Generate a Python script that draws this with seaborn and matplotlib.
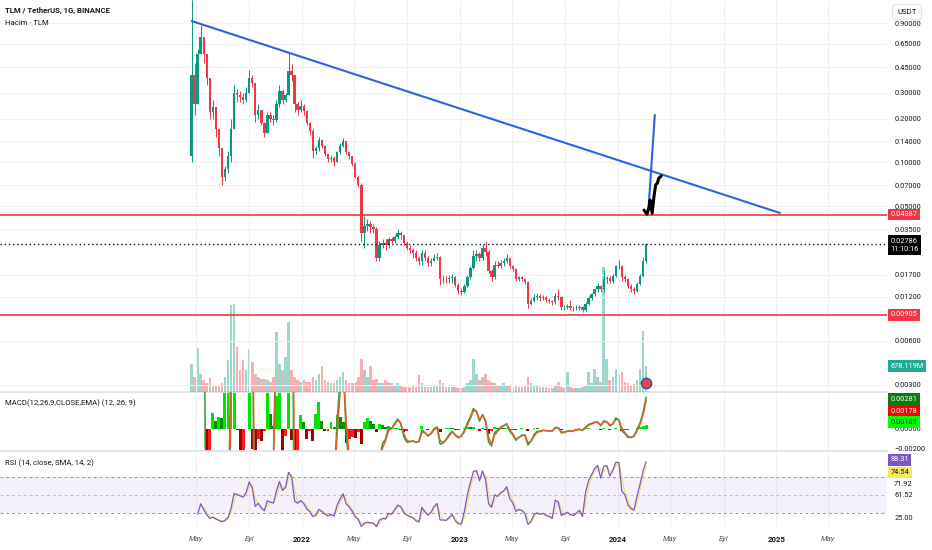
import numpy as np
import pandas as pd
import matplotlib
matplotlib.use("Agg")
import matplotlib.pyplot as plt
import matplotlib.dates as mdates
import matplotlib.transforms as mtransforms
from matplotlib.ticker import FixedLocator, NullLocator, FixedFormatter
import seaborn as sns

# ---- data: weekly candles ----
start_date = "2021-04-21"
first_open = 0.11

closes = [
    0.40, 0.25, 0.55, 0.72, 0.55, 0.38, 0.22, 0.24, 0.17, 0.125,
    0.08, 0.09, 0.11, 0.17, 0.30, 0.29, 0.28, 0.27, 0.30, 0.38,
    0.35, 0.21, 0.23, 0.185, 0.16, 0.21, 0.20, 0.195, 0.25, 0.31,
    0.27, 0.29, 0.42, 0.40, 0.25, 0.23, 0.245, 0.225, 0.185, 0.165,
    0.12, 0.125, 0.142, 0.13, 0.115, 0.105, 0.108, 0.10, 0.118, 0.13,
    0.14, 0.118, 0.11, 0.098, 0.08, 0.07, 0.033, 0.037, 0.038, 0.036,
    0.035, 0.022, 0.027, 0.028, 0.027, 0.030, 0.029, 0.031, 0.033, 0.032,
    0.028, 0.026, 0.025, 0.024, 0.022, 0.021, 0.024, 0.022, 0.0205, 0.021,
    0.022, 0.0225, 0.016, 0.016, 0.0158, 0.0162, 0.0165, 0.0145, 0.0132, 0.013,
    0.0142, 0.0165, 0.019, 0.023, 0.0235, 0.022, 0.026, 0.0245, 0.018, 0.0165,
    0.020, 0.0195, 0.0205, 0.021, 0.022, 0.0195, 0.0185, 0.016, 0.0163, 0.016,
    0.0152, 0.0108, 0.0112, 0.012, 0.0122, 0.0118, 0.0119, 0.0115, 0.0113, 0.011,
    0.0122, 0.012, 0.0102, 0.0103, 0.0104, 0.0101, 0.0100, 0.0101, 0.0102, 0.0097,
    0.0108, 0.0118, 0.0125, 0.0135, 0.0142, 0.0135, 0.016, 0.0162, 0.0155, 0.0168,
    0.0195, 0.0195, 0.0165, 0.016, 0.0143, 0.0135, 0.0132, 0.0148, 0.0168, 0.021,
    0.02786,
]
highs = [
    1.30, 0.48, 0.60, 0.88, 0.72, 0.55, 0.38, 0.27, 0.24, 0.17,
    0.125, 0.095, 0.12, 0.20, 0.34, 0.32, 0.31, 0.30, 0.33, 0.43,
    0.40, 0.35, 0.25, 0.23, 0.19, 0.22, 0.22, 0.21, 0.27, 0.34,
    0.32, 0.30, 0.57, 0.47, 0.40, 0.26, 0.27, 0.25, 0.23, 0.19,
    0.17, 0.13, 0.15, 0.145, 0.13, 0.115, 0.112, 0.11, 0.12, 0.135,
    0.148, 0.14, 0.12, 0.11, 0.10, 0.082, 0.072, 0.043, 0.041, 0.040,
    0.038, 0.036, 0.029, 0.030, 0.030, 0.031, 0.031, 0.032, 0.035, 0.034,
    0.032, 0.029, 0.027, 0.026, 0.025, 0.023, 0.025, 0.025, 0.023, 0.022,
    0.0235, 0.024, 0.023, 0.017, 0.0168, 0.017, 0.0172, 0.0168, 0.015, 0.0138,
    0.0148, 0.017, 0.0195, 0.025, 0.025, 0.0245, 0.0275, 0.029, 0.025, 0.0185,
    0.021, 0.021, 0.0215, 0.022, 0.0235, 0.022, 0.0198, 0.0188, 0.0168, 0.0166,
    0.0162, 0.0153, 0.0118, 0.0126, 0.0128, 0.0125, 0.0123, 0.0121, 0.0118, 0.0115,
    0.0127, 0.0136, 0.0121, 0.0106, 0.0108, 0.0114, 0.0104, 0.0105, 0.0105, 0.0104,
    0.0111, 0.0121, 0.0128, 0.0138, 0.015, 0.0145, 0.0182, 0.0168, 0.0166, 0.0172,
    0.020, 0.0216, 0.0198, 0.017, 0.0162, 0.0148, 0.014, 0.0152, 0.0172, 0.0225,
    0.0282,
]
lows = [
    0.10, 0.21, 0.25, 0.55, 0.48, 0.34, 0.20, 0.20, 0.15, 0.11,
    0.07, 0.075, 0.085, 0.10, 0.17, 0.26, 0.26, 0.25, 0.26, 0.30,
    0.33, 0.19, 0.20, 0.18, 0.15, 0.16, 0.19, 0.18, 0.19, 0.24,
    0.25, 0.26, 0.29, 0.36, 0.22, 0.21, 0.22, 0.21, 0.18, 0.155,
    0.108, 0.115, 0.12, 0.125, 0.11, 0.10, 0.10, 0.095, 0.10, 0.115,
    0.128, 0.115, 0.105, 0.095, 0.078, 0.068, 0.029, 0.026, 0.034, 0.033,
    0.033, 0.021, 0.021, 0.026, 0.025, 0.026, 0.028, 0.028, 0.030, 0.030,
    0.027, 0.025, 0.024, 0.022, 0.021, 0.020, 0.020, 0.021, 0.0195, 0.0195,
    0.021, 0.0215, 0.0145, 0.015, 0.015, 0.015, 0.015, 0.014, 0.0125, 0.0124,
    0.0128, 0.014, 0.016, 0.0185, 0.021, 0.021, 0.0215, 0.023, 0.0175, 0.0155,
    0.016, 0.019, 0.019, 0.0195, 0.0205, 0.019, 0.018, 0.0155, 0.0155, 0.0155,
    0.0148, 0.0100, 0.0105, 0.0110, 0.0115, 0.0113, 0.0114, 0.0111, 0.0109, 0.0106,
    0.0108, 0.0115, 0.0098, 0.0098, 0.0099, 0.0097, 0.0096, 0.0097, 0.0098, 0.0094,
    0.0096, 0.0106, 0.0115, 0.0122, 0.013, 0.013, 0.013, 0.015, 0.015, 0.015,
    0.0165, 0.0185, 0.0155, 0.0152, 0.0138, 0.013, 0.0126, 0.013, 0.0145, 0.0165,
    0.0205,
]
volumes_m = [
    730, 400, 1150, 480, 310, 230, 360, 180, 180, 180,
    230, 400, 830, 2270, 2300, 1180, 570, 830, 570, 1130,
    780, 470, 390, 340, 340, 310, 260, 390, 1560, 730,
    570, 910, 1830, 570, 390, 310, 260, 310, 260, 260,
    390, 310, 470, 680, 310, 260, 230, 230, 310, 390,
    520, 310, 230, 230, 260, 390, 860, 570, 390, 680,
    310, 340, 230, 230, 310, 260, 230, 180, 230, 180,
    130, 130, 130, 180, 130, 440, 230, 130, 130, 130,
    180, 180, 310, 230, 130, 130, 130, 130, 100, 100,
    130, 230, 310, 860, 470, 310, 390, 470, 310, 260,
    230, 180, 180, 230, 180, 150, 130, 150, 130, 130,
    150, 390, 230, 180, 150, 130, 130, 130, 100, 100,
    180, 260, 130, 100, 520, 130, 100, 100, 100, 130,
    180, 520, 230, 600, 390, 260, 3250, 860, 310, 390,
    600, 470, 520, 260, 230, 180, 200, 300, 600, 1600,
    678.119,
]

resistance = 0.04387
support = 0.00905
last_price = 0.02786
countdown = "11:10:16"
last_volume_m = 678.119
macd_labels = ["0.00281", "0.00178", "0.00103"]
rsi_labels = ["88.31", "74.54", "71.92", "61.52"]

# user drawings
trend_dates = ["2021-04-21", "2025-01-09"]
trend_prices = [0.931, 0.0451]
target_dates = ["2024-03-11", "2024-03-26"]
target_prices = [0.046, 0.2114]
path_dates = ["2024-03-01", "2024-03-08", "2024-03-13", "2024-03-15", "2024-03-20",
              "2024-03-24", "2024-03-28", "2024-04-01", "2024-04-04", "2024-04-10"]
path_prices = [0.0472, 0.0442, 0.0498, 0.0553, 0.0449, 0.0583, 0.0701, 0.0723, 0.0779, 0.0808]

price_ticks = [0.9, 0.65, 0.45, 0.3, 0.2, 0.14, 0.1, 0.07, 0.05, 0.035, 0.017, 0.012, 0.006, 0.003]
time_ticks = ["2021-05-01", "2021-09-01", "2022-01-01", "2022-05-01", "2022-09-01", "2023-01-01",
              "2023-05-01", "2023-09-01", "2024-01-01", "2024-05-01", "2024-09-01", "2025-01-01",
              "2025-05-01"]
time_labels = ["May", "Eyl", "2022", "May", "Eyl", "2023", "May", "Eyl", "2024", "May", "Eyl", "2025", "May"]

# ---- style ----
sns.set_theme(style="white")
plt.rcParams["font.family"] = ["Roboto", "DejaVu Sans"]
UP, DOWN = "#089981", "#f23645"
GRID = "#eef0f4"
FS = 5.3

n = min(len(closes), len(highs), len(lows), len(volumes_m))
close = pd.Series(closes[:n])
opens = pd.Series([first_open] + closes[:n - 1])
hi = np.maximum(np.array(highs[:n]), np.maximum(opens, close))
lo = np.minimum(np.array(lows[:n]), np.minimum(opens, close))
dates = pd.date_range(start_date, periods=n, freq="7D")
xs = mdates.date2num(dates)
up = (close >= opens).values

# indicators (daily EMA lengths expressed per weekly bar)
def ema(s, days):
    a = 1 - (1 - 2 / (days + 1)) ** 7
    return s.ewm(alpha=a, adjust=False).mean()

macd = ema(close, 12) - ema(close, 26)
signal = ema(macd, 9)
hist = macd - signal
macd[:4] = np.nan
signal[:5] = np.nan
hist[:5] = np.nan

delta = close.diff()
a_rsi = 1 / 6
gain = delta.clip(lower=0).ewm(alpha=a_rsi, adjust=False).mean()
loss = (-delta.clip(upper=0)).ewm(alpha=a_rsi, adjust=False).mean()
rsi = 100 - 100 / (1 + gain / loss)
rsi_ma = rsi.rolling(2).mean()
rsi[:2] = np.nan
rsi_ma[:4] = np.nan

# ---- figure ----
W, H = 932, 550
fig = plt.figure(figsize=(W / 100, H / 100), dpi=100)
right = 887 / W
ax = fig.add_axes([0, (H - 392) / H, right, 392 / H])
ax_m = fig.add_axes([0, (H - 451) / H, right, 59 / H])
ax_r = fig.add_axes([0, (H - 527) / H, right, 76 / H])

xlim = (mdates.date2num(pd.Timestamp("2020-02-03 08:00")), mdates.date2num(pd.Timestamp("2025-09-13 10:00")))
tick_x = mdates.date2num(pd.to_datetime(time_ticks))

for a in (ax, ax_m, ax_r):
    a.set_xlim(*xlim)
    a.xaxis.set_major_locator(FixedLocator(tick_x))
    a.grid(axis="x", color=GRID, lw=0.8)
    for s in a.spines.values():
        s.set_visible(False)
    a.tick_params(axis="x", length=0, labelbottom=False)
    a.set_axisbelow(True)

# volume overlay
ax_v = ax.twinx()
ax_v.set_ylim(0, last_volume_m * 1e6 * 392 / 26)
ax_v.bar(xs, np.array(volumes_m[:n]) * 1e6, width=6.0,
         color=np.where(up, UP, DOWN), alpha=0.4, linewidth=0)
ax_v.set_yticks([])
ax_v.set_xlim(*xlim)
for s in ax_v.spines.values():
    s.set_visible(False)
ax.set_zorder(ax_v.get_zorder() + 1)
ax.patch.set_visible(False)

# price panel
ax.set_yscale("log")
ax.set_ylim(0.002678, 1.297)
ax.yaxis.tick_right()
ax.yaxis.set_major_locator(FixedLocator(price_ticks))
ax.yaxis.set_major_formatter(FixedFormatter([f"{p:.5f}" for p in price_ticks]))
ax.yaxis.set_minor_locator(NullLocator())
ax.tick_params(axis="y", length=0, pad=5.5, labelsize=FS, labelcolor="#131722")
ax.grid(axis="y", color=GRID, lw=0.8)

cols = np.where(up, UP, DOWN)
ax.vlines(xs, lo, hi, colors=cols, lw=0.7, zorder=3)
ax.bar(xs, (close - opens).values, bottom=opens.values, width=5.6, color=cols, linewidth=0, zorder=3)

ax.axhline(resistance, color=DOWN, lw=1.2, zorder=4)
ax.axhline(support, color=DOWN, lw=1.2, zorder=4)
ax.axhline(last_price, color="#131722", lw=1.0, ls=(0, (1, 2)), zorder=4)

sns.lineplot(x=mdates.date2num(pd.to_datetime(trend_dates)), y=trend_prices, ax=ax,
             color="#2f62e0", lw=1.5, estimator=None, zorder=5)
sns.lineplot(x=mdates.date2num(pd.to_datetime(target_dates)), y=target_prices, ax=ax,
             color="#2f62e0", lw=1.5, estimator=None, zorder=5)
ax.plot(mdates.date2num(pd.to_datetime(path_dates)), path_prices, color="black", lw=2.2,
        solid_joinstyle="round", solid_capstyle="round", zorder=6)

blend = mtransforms.blended_transform_factory(ax.transAxes, ax.transData)
box = dict(boxstyle="square,pad=0.3", ec="none")
ax.text(1.004, resistance, f"{resistance:.5f}", transform=blend, va="center", ha="left", fontsize=FS,
        color="white", bbox=dict(box, fc=DOWN), clip_on=False, zorder=10)
ax.text(1.004, support, f"{support:.5f}", transform=blend, va="center", ha="left", fontsize=FS,
        color="white", bbox=dict(box, fc=DOWN), clip_on=False, zorder=10)
ax.annotate(f"{last_price:.5f}\n{countdown}", xy=(1.004, last_price), xycoords=blend,
            xytext=(0, 4.3), textcoords="offset points", va="top", ha="left", fontsize=FS,
            color="white", linespacing=1.25, bbox=dict(box, fc="#000000"), annotation_clip=False, zorder=10)
vblend = mtransforms.blended_transform_factory(ax_v.transAxes, ax_v.transData)
ax_v.text(1.004, last_volume_m * 1e6, f"{last_volume_m:.3f}M", transform=vblend, va="center", ha="left",
          fontsize=FS, color="white", bbox=dict(box, fc="#22ab94"), clip_on=False, zorder=10)

ax.scatter([xs[-1]], [0.023], transform=mtransforms.blended_transform_factory(ax.transData, ax.transAxes),
           s=55, c="#e8414a", edgecolors="#2a4fa8", linewidths=1.0, zorder=7, clip_on=False)

# MACD panel
ax_m.set_ylim(-0.00228, 0.00382)
hprev = hist.shift(1)
hcol = np.where(hist >= 0, np.where(hist > hprev, "#00e600", "#009100"),
                np.where(hist > hprev, "#ff1a1a", "#a00000"))
ax_m.bar(xs, hist.fillna(0).values, width=6.8, color=hcol, linewidth=0, zorder=2)
sns.lineplot(x=xs, y=macd.values, ax=ax_m, color="#2e9b3a", lw=1.1, estimator=None, zorder=3)
sns.lineplot(x=xs, y=signal.values, ax=ax_m, color="#e0602a", lw=1.1, estimator=None, zorder=3)
ax_m.spines["top"].set_visible(True)
ax_m.spines["top"].set_color("#e0e3eb")
ax_m.yaxis.tick_right()
ax_m.set_yticks([-0.002, 0.0])
ax_m.set_yticklabels(["\u22120.00200", "0.00000"])
ax_m.tick_params(axis="y", length=0, pad=5.5, labelsize=FS, labelcolor="#131722")
ax_m.set_ylabel("")
mblend = mtransforms.blended_transform_factory(ax_m.transAxes, ax_m.transData)
for txt, ypos, fc, tc in zip(macd_labels, [0.00308, 0.00185, 0.00070],
                             ["#0a7a14", "#ff0000", "#00ff00"], ["white", "white", "#131722"]):
    ax_m.text(1.004, ypos, txt, transform=mblend, va="center", ha="left", fontsize=FS, color=tc,
              bbox=dict(box, fc=fc), clip_on=False, zorder=10)

# RSI panel
ax_r.set_ylim(14.4, 98.9)
ax_r.axhspan(30, 70, color="#7e57c2", alpha=0.08, lw=0)
for lvl, al in ((70, 1.0), (50, 0.6), (30, 1.0)):
    ax_r.axhline(lvl, color="#9598a1", lw=0.7, ls=(0, (3, 3)), alpha=al)
sns.lineplot(x=xs, y=rsi_ma.values, ax=ax_r, color="#f3e27a", lw=0.9, estimator=None, zorder=3)
sns.lineplot(x=xs, y=rsi.values, ax=ax_r, color="#7e57c2", lw=0.9, estimator=None, zorder=4)
ax_r.spines["top"].set_visible(True)
ax_r.spines["top"].set_color("#e0e3eb")
ax_r.yaxis.tick_right()
ax_r.set_yticks([25])
ax_r.set_yticklabels(["25.00"])
ax_r.tick_params(axis="y", length=0, pad=5.5, labelsize=FS, labelcolor="#131722")
ax_r.set_ylabel("")
rblend = mtransforms.blended_transform_factory(ax_r.transAxes, ax_r.transData)
ax_r.text(1.004, 88.9, rsi_labels[0], transform=rblend, va="center", ha="left", fontsize=FS,
          color="white", bbox=dict(box, fc="#7e57c2"), clip_on=False, zorder=10)
ax_r.text(1.004, 74.8, rsi_labels[1], transform=rblend, va="center", ha="left", fontsize=FS,
          color="#131722", bbox=dict(box, fc="#fbe75a"), clip_on=False, zorder=10)
ax_r.text(1.008, 62.2, rsi_labels[2], transform=rblend, va="center", ha="left",
          fontsize=FS, color="#131722", clip_on=False)
ax_r.text(1.008, 49.7, rsi_labels[3], transform=rblend, va="center", ha="left",
          fontsize=FS, color="#131722", clip_on=False)

# time axis
ax_r.tick_params(axis="x", labelbottom=True, pad=6.5, labelsize=FS + 0.3)
ax_r.xaxis.set_major_formatter(FixedFormatter(time_labels))
for lab, txt in zip(ax_r.get_xticklabels(), time_labels):
    if txt.isdigit():
        lab.set_fontweight("bold")
        lab.set_color("#131722")
    else:
        lab.set_color("#50535e")
        lab.set_fontstyle("italic")

# headers
fig.text(5 / W, 1 - 10 / H, "TLM / TetherUS, 1G, BINANCE", fontsize=5.6, fontweight="bold",
         color="#131722", va="center")
fig.text(5 / W, 1 - 23 / H, "Hacim \u00b7 TLM", fontsize=5.6, color="#131722", va="center")
fig.text(5 / W, 1 - 403 / H, "MACD(12,26,9,CLOSE,EMA) (12, 26, 9)", fontsize=5.6, color="#131722", va="center")
fig.text(5 / W, 1 - 463 / H, "RSI (14, close, SMA, 14, 2)", fontsize=5.6, color="#131722", va="center")
fig.text(907 / W, 1 - 12 / H, "USDT", fontsize=5.6, color="#131722", ha="center", va="center",
         bbox=dict(boxstyle="round,pad=0.6,rounding_size=0.4", fc="white", ec="#e0e3eb", lw=0.8))

fig.savefig("out.png", dpi=100)
